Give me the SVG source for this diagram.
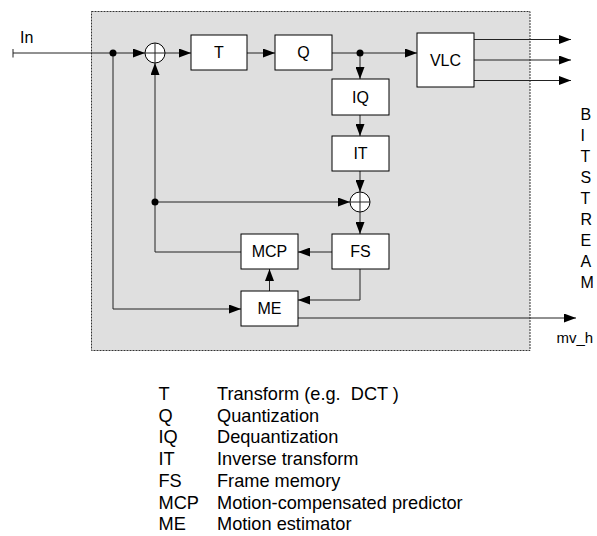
<svg xmlns="http://www.w3.org/2000/svg" width="597" height="536" viewBox="0 0 597 536">
<style>
.box{fill:#fff;stroke:#000;stroke-width:1}
.lbl{font-family:"Liberation Sans",Arial,sans-serif;font-size:16px;fill:#000;text-anchor:middle}
.txt{font-family:"Liberation Sans",Arial,sans-serif;font-size:16px;fill:#000}
.leg{font-family:"Liberation Sans",Arial,sans-serif;font-size:18.2px;fill:#000}
.ln{fill:none;stroke:#222;stroke-width:1}
.arr{marker-end:url(#ah)}
.sum{fill:#fff;stroke:#000;stroke-width:1}
</style>
<defs>
<marker id="ah" markerUnits="userSpaceOnUse" markerWidth="12" markerHeight="9" refX="12" refY="4.5" orient="auto">
<path d="M0,0 L12,4.5 L0,9 z" fill="#000"/>
</marker>
</defs>
<rect id="frame" x="91.5" y="11.5" width="438.5" height="339" fill="#dfdfdf" stroke="#333" stroke-width="1" stroke-dasharray="2,1"/>
<g id="connectors">
<path class="ln" d="M13,49 V57.5"/>
<path class="ln arr" d="M13,53 H145"/>
<path class="ln arr" d="M165,53 H191"/>
<path class="ln arr" d="M247,53 H275"/>
<path class="ln arr" d="M332,53 H417"/>
<path class="ln arr" d="M474,39.5 H571"/>
<path class="ln arr" d="M474,60 H571"/>
<path class="ln arr" d="M474,80.5 H571"/>
<path class="ln arr" d="M360,53 V79"/>
<path class="ln arr" d="M360,115 V136"/>
<path class="ln arr" d="M360,171 V192"/>
<path class="ln arr" d="M360,212 V234"/>
<path class="ln arr" d="M332,252 H298"/>
<path class="ln arr" d="M241,252 H155 V63"/>
<path class="ln arr" d="M155,202 H350"/>
<path class="ln arr" d="M269.5,291 V269"/>
<path class="ln arr" d="M360,269 V300 H298"/>
<path class="ln arr" d="M113,53 V309 H241"/>
<path class="ln arr" d="M298,318 H576"/>
<circle cx="113" cy="53" r="3.5" fill="#000"/>
<circle cx="360" cy="53" r="3.5" fill="#000"/>
<circle cx="155" cy="202" r="3.5" fill="#000"/>
</g>
<g id="sum1"><circle class="sum" cx="155" cy="53" r="10"/><path class="ln" d="M145,53 H165 M155,43 V63" stroke="#000"/></g>
<g id="sum2"><circle class="sum" cx="360" cy="202" r="10"/><path class="ln" d="M350,202 H370 M360,192 V212" stroke="#000"/></g>
<g id="T"><rect class="box" x="191" y="35" width="56" height="35"/><text class="lbl" x="219" y="58.2">T</text></g>
<g id="Q"><rect class="box" x="275" y="35" width="57" height="35"/><text class="lbl" x="303.5" y="58.2">Q</text></g>
<g id="VLC"><rect class="box" x="417" y="33" width="57" height="54"/><text class="lbl" x="445.5" y="66.3">VLC</text></g>
<g id="IQ"><rect class="box" x="332" y="79" width="57" height="36"/><text class="lbl" x="360.5" y="102.7">IQ</text></g>
<g id="IT"><rect class="box" x="332" y="136" width="57" height="35"/><text class="lbl" x="360.5" y="159.2">IT</text></g>
<g id="FS"><rect class="box" x="332" y="234" width="57" height="35"/><text class="lbl" x="360.5" y="257.2">FS</text></g>
<g id="MCP"><rect class="box" x="241" y="234" width="57" height="35"/><text class="lbl" x="269.5" y="257.2">MCP</text></g>
<g id="ME"><rect class="box" x="241" y="291" width="57" height="35"/><text class="lbl" x="269.5" y="314.2">ME</text></g>
<g id="labels">
<text class="txt" x="20" y="42.7">In</text>
<text class="txt" x="556.5" y="343" style="font-size:15px">mv_h</text>
<text class="txt" x="580.5" y="119.5">B</text>
<text class="txt" x="580.5" y="140.5">I</text>
<text class="txt" x="580.5" y="161.5">T</text>
<text class="txt" x="580.5" y="182.5">S</text>
<text class="txt" x="580.5" y="203.5">T</text>
<text class="txt" x="580.5" y="224.5">R</text>
<text class="txt" x="580.5" y="245.5">E</text>
<text class="txt" x="580.5" y="266.5">A</text>
<text class="txt" x="580.5" y="287.5">M</text>
</g>
<g id="legend">
<text class="leg" x="158.5" y="400">T</text><text class="leg" x="217" y="400" xml:space="preserve">Transform (e.g.  DCT )</text>
<text class="leg" x="158.5" y="421.7">Q</text><text class="leg" x="217" y="421.7">Quantization</text>
<text class="leg" x="158.5" y="443.4">IQ</text><text class="leg" x="217" y="443.4">Dequantization</text>
<text class="leg" x="158.5" y="465.1">IT</text><text class="leg" x="217" y="465.1">Inverse transform</text>
<text class="leg" x="158.5" y="486.8">FS</text><text class="leg" x="217" y="486.8">Frame memory</text>
<text class="leg" x="158.5" y="508.5">MCP</text><text class="leg" x="217" y="508.5">Motion-compensated predictor</text>
<text class="leg" x="158.5" y="530.2">ME</text><text class="leg" x="217" y="530.2">Motion estimator</text>
</g>
</svg>
